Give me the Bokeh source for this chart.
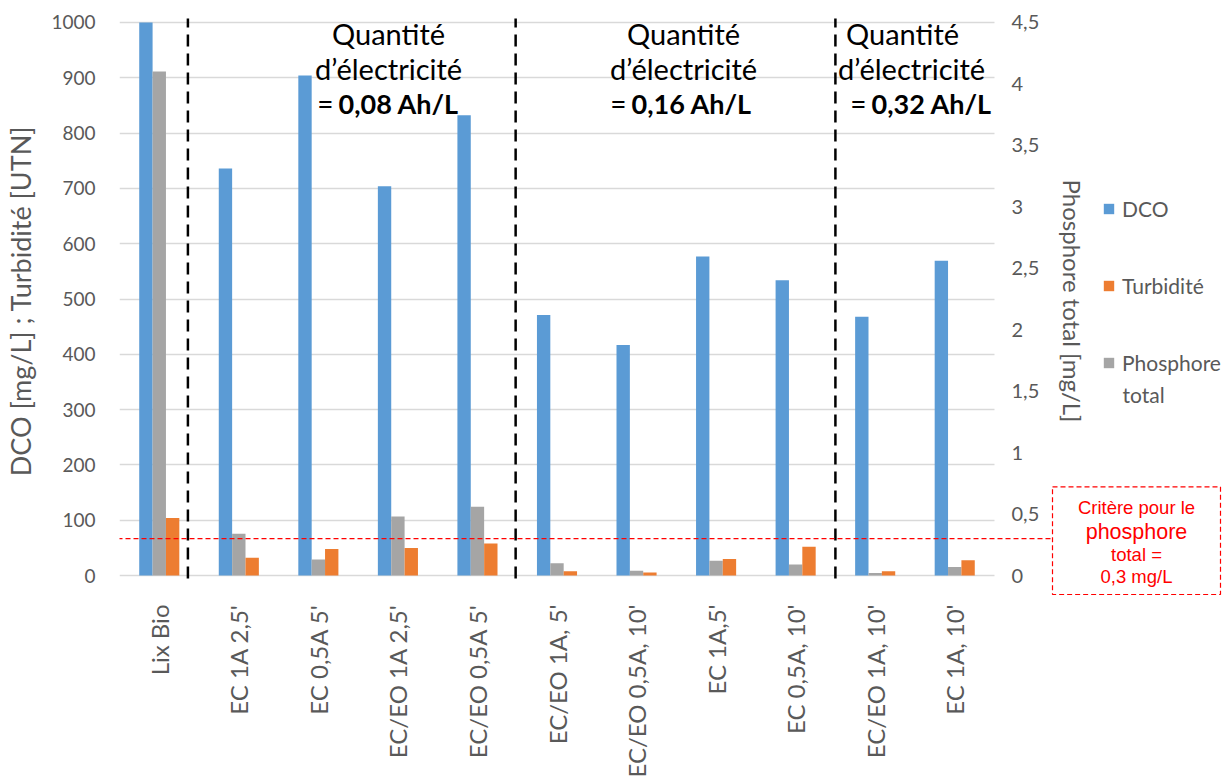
import math

from bokeh.embed import file_html
from bokeh.models import (BoxAnnotation, ColumnDataSource, CustomJSTickFormatter,
                          FixedTicker, Label, Legend, LegendItem, LinearAxis,
                          Range1d)
from bokeh.plotting import figure
from bokeh.resources import INLINE
from bokeh.transform import dodge

# ---------------------------------------------------------------- data
categories = ["Lix Bio", "EC 1A 2,5'", "EC 0,5A 5'", "EC/EO 1A 2,5'", "EC/EO 0,5A 5'",
              "EC/EO 1A, 5'", "EC/EO 0,5A, 10'", "EC 1A,5'", "EC 0,5A, 10'",
              "EC/EO 1A, 10'", "EC 1A, 10'"]
dco = [1000, 736, 904, 704, 832, 471, 417, 577, 534, 468, 569]            # mg/L
turbidite = [104, 32, 48, 50, 58, 8, 5.5, 30, 52, 8, 27.5]               # UTN
phosphore = [4.1, 0.34, 0.13, 0.48, 0.56, 0.10, 0.04, 0.12, 0.09, 0.02, 0.07]  # mg/L

left_ticks = list(range(0, 1001, 100))
right_ticks = [0, 0.5, 1, 1.5, 2, 2.5, 3, 3.5, 4, 4.5]
left_max, right_max = 1000, 4.5
critere_phosphore = 0.3  # mg/L

charges = ["0,08 Ah/L", "0,16 Ah/L", "0,32 Ah/L"]

# ---------------------------------------------------------------- layout
W, H = 1228, 780
FL, FT, FB = 119, 5, 598           # plotting frame edges (canvas px)
BARS_R = 994                       # right end of the bar area / secondary axis
Y_TOP, Y_ZERO = 22, 577            # canvas rows of the axis maximum and of zero
GREY_TXT = "#595959"
FONT = "Lato"

n = len(categories)
step = (BARS_R - FL) / n           # px per category
x_end = (W - FL) / step            # frame runs to the right canvas edge
ppu = (Y_ZERO - Y_TOP) / left_max  # px per left-axis unit


def cx(px):
    """canvas x pixel -> x data coordinate"""
    return (px - FL) / step


def cy(py):
    """canvas y pixel -> left axis value"""
    return (Y_ZERO - py) / ppu


ratio = right_max / left_max
p = figure(width=W, height=H, x_range=Range1d(0, x_end),
           y_range=Range1d(cy(FB), cy(FT)),
           output_backend="svg", toolbar_location=None,
           min_border_left=FL, min_border_right=0, min_border_top=FT,
           min_border_bottom=H - FB)
p.extra_y_ranges = {"p": Range1d(cy(FB) * ratio, cy(FT) * ratio)}
p.outline_line_color = None
p.background_fill_color = "white"
p.border_fill_color = "white"

centres = [i + 0.5 for i in range(n)]
src = ColumnDataSource(dict(x=centres, dco=dco, turb=turbidite, phos=phosphore))
bw = 0.168
r_dco = p.vbar(x=dodge("x", -bw), top="dco", bottom=0, width=bw, source=src,
               fill_color="#5B9BD5", line_color=None)
r_phos = p.vbar(x=dodge("x", 0), top="phos", bottom=0, width=bw, source=src,
                fill_color="#A5A5A5", line_color=None, y_range_name="p")
r_turb = p.vbar(x=dodge("x", bw), top="turb", bottom=0, width=bw, source=src,
                fill_color="#ED7D31", line_color=None)

# ---------------------------------------------------------------- axes / grid
p.ygrid.ticker = FixedTicker(ticks=left_ticks)
p.ygrid.grid_line_color = "#d9d9d9"
p.ygrid.grid_line_width = 1.3
p.xgrid.grid_line_color = None
# keep the horizontal grid to the bar area only
p.add_layout(BoxAnnotation(left=n, level="underlay", fill_color="white", fill_alpha=1,
                           line_color=None))

yax = p.yaxis[0]
yax.ticker = FixedTicker(ticks=left_ticks)
yax.axis_line_color = None
yax.major_tick_line_color = None
yax.minor_tick_line_color = None
yax.major_label_standoff = 18
yax.major_label_text_font = FONT
yax.major_label_text_font_size = "19px"
yax.major_label_text_color = GREY_TXT
yax.axis_label = "DCO [mg/L] ; Turbidité [UTN]"
yax.axis_label_text_font = FONT
yax.axis_label_text_font_style = "normal"
yax.axis_label_text_font_size = "27px"
yax.axis_label_text_color = GREY_TXT
yax.axis_label_standoff = 11

rax = LinearAxis(y_range_name="p", fixed_location=n, ticker=FixedTicker(ticks=right_ticks),
                 formatter=CustomJSTickFormatter(code="return tick.toString().replace('.', ',')"))
rax.axis_line_color = None
rax.major_tick_line_color = None
rax.minor_tick_line_color = None
rax.major_label_standoff = 11
rax.major_label_text_font = FONT
rax.major_label_text_font_size = "20px"
rax.major_label_text_color = GREY_TXT
rax.axis_label = "Phosphore total [mg/L]"
rax.axis_label_text_font = FONT
rax.axis_label_text_font_style = "normal"
rax.axis_label_text_font_size = "24px"
rax.axis_label_text_color = GREY_TXT
rax.axis_label_standoff = 16
p.add_layout(rax, "right")

xax = p.xaxis[0]
xax.ticker = FixedTicker(ticks=centres)
xax.formatter = CustomJSTickFormatter(args=dict(cats=categories),
                                      code="return cats[Math.round(tick - 0.5)]")
xax.axis_line_color = None
xax.major_tick_line_color = None
xax.minor_tick_line_color = None
xax.major_label_orientation = math.pi / 2
xax.major_label_standoff = 2
xax.major_label_text_font = FONT
xax.major_label_text_font_size = "24px"
xax.major_label_text_color = GREY_TXT

# ---------------------------------------------------------------- separators
separators = [0.86, 4.98, 9.0]
p.segment(x0=separators, x1=separators, y0=[cy(580)] * 3, y1=[cy(18)] * 3,
          line_color="black", line_width=2.5, line_dash="12 7")

# electricity quantity captions (centre of each of the three lines, canvas px)
caption_x = [(388, 388, 389), (683, 683, 682), (902, 911, 922)]
for charge, (xa, xb, xc) in zip(charges, caption_x):
    for txt, px, py in (("Quantité", xa, 33), ("d’électricité", xb, 68)):
        p.add_layout(Label(x=cx(px), y=cy(py), text=txt, text_align="center",
                           text_baseline="middle", text_font=FONT,
                           text_font_size="29px", text_color="black"))
    p.add_layout(Label(x=cx(xc), y=cy(103), x_offset=-56, text="=", text_align="right",
                       text_baseline="middle", text_font=FONT, text_font_size="28px",
                       text_color="black"))
    p.add_layout(Label(x=cx(xc), y=cy(103), x_offset=-51, text=charge, text_align="left",
                       text_baseline="middle", text_font=FONT, text_font_size="27px",
                       text_font_style="bold", text_color="black"))

# phosphorus criterion line and its note
p.segment(x0=[cx(117)], x1=[cx(1052)], y0=[critere_phosphore], y1=[critere_phosphore],
          y_range_name="p", line_color="#FF0000", line_width=1.3, line_dash="5 3")
p.add_layout(BoxAnnotation(left=cx(1052), right=cx(1220), top=cy(488), bottom=cy(596),
                           fill_color="white", fill_alpha=1, line_color="#FF0000",
                           line_alpha=1, line_width=1.2, line_dash="5 3"))
for txt, py, size in (("Critère pour le", 509, "18.5px"), ("phosphore", 533, "21.5px"),
                      ("total =", 556, "18.5px"), ("0,3 mg/L", 578, "18.5px")):
    p.add_layout(Label(x=cx(1136), y=cy(py), text=txt, text_align="center",
                       text_baseline="middle", text_font="Liberation Sans",
                       text_font_size=size, text_color="#FF0000"))

# ---------------------------------------------------------------- legend
legend = Legend(items=[LegendItem(label="DCO", renderers=[r_dco]),
                       LegendItem(label="Turbidité", renderers=[r_turb]),
                       LegendItem(label="Phosphore", renderers=[r_phos])],
                location=(1102 - FL, FB - 377), orientation="vertical",
                padding=0, margin=0, spacing=52, glyph_width=13, glyph_height=13,
                label_standoff=7, label_text_font=FONT, label_text_font_size="21px",
                label_text_color=GREY_TXT, border_line_color=None,
                background_fill_alpha=0)
p.add_layout(legend)
p.add_layout(Label(x=cx(1122), y=cy(395), text="total", text_align="left",
                   text_baseline="middle", text_font=FONT, text_font_size="21px",
                   text_color=GREY_TXT))

open("out.html", "w").write(file_html(p, INLINE))
